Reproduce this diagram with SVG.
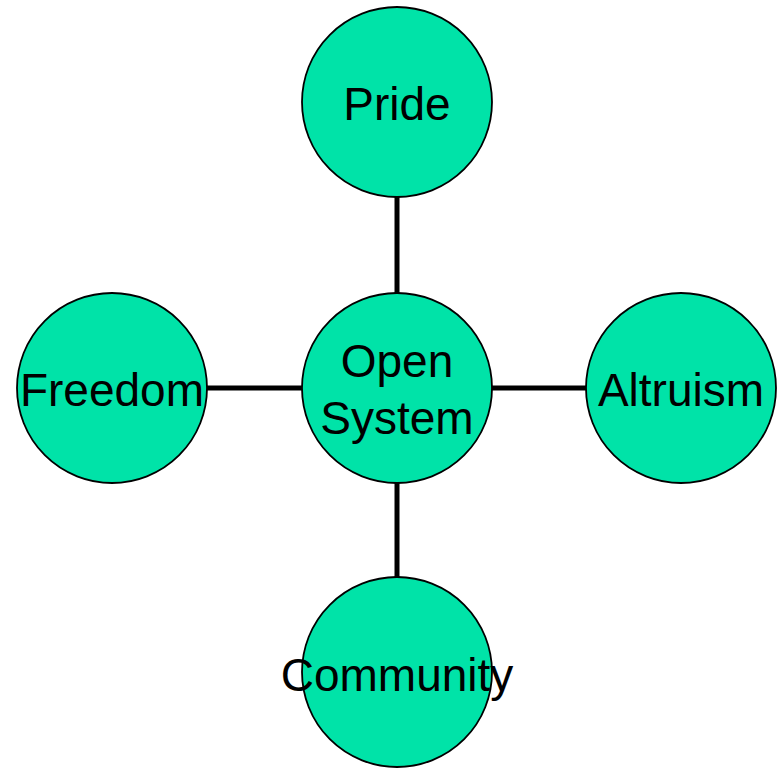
<svg xmlns="http://www.w3.org/2000/svg" width="781" height="768" viewBox="0 0 781 768">
<style>
.n{fill:#00E3A8;stroke:#000;stroke-width:1.8}
.t{font-family:"Liberation Sans",Arial,sans-serif;font-size:46px;fill:#000;text-anchor:middle}
.c{stroke:#000;stroke-width:5;fill:none}
</style>
<rect width="781" height="768" fill="#fff"/>
<g id="connectors">
<line class="c" x1="397" y1="197" x2="397" y2="293"/>
<line class="c" x1="207" y1="388" x2="302" y2="388"/>
<line class="c" x1="492" y1="388" x2="586" y2="388"/>
<line class="c" x1="397" y1="483" x2="397" y2="577"/>
</g>
<g id="pride"><circle class="n" cx="397" cy="102" r="95"/><text class="t" x="397" y="120">Pride</text></g>
<g id="open-system"><circle class="n" cx="397" cy="388" r="95"/><text class="t" x="397" y="377">Open</text><text class="t" x="397" y="434">System</text></g>
<g id="freedom"><circle class="n" cx="112" cy="388" r="95"/><text class="t" x="112" y="406">Freedom</text></g>
<g id="altruism"><circle class="n" cx="681" cy="388" r="95"/><text class="t" x="681" y="406">Altruism</text></g>
<g id="community"><circle class="n" cx="397" cy="672" r="95"/><text class="t" x="397" y="691">Community</text></g>
</svg>
